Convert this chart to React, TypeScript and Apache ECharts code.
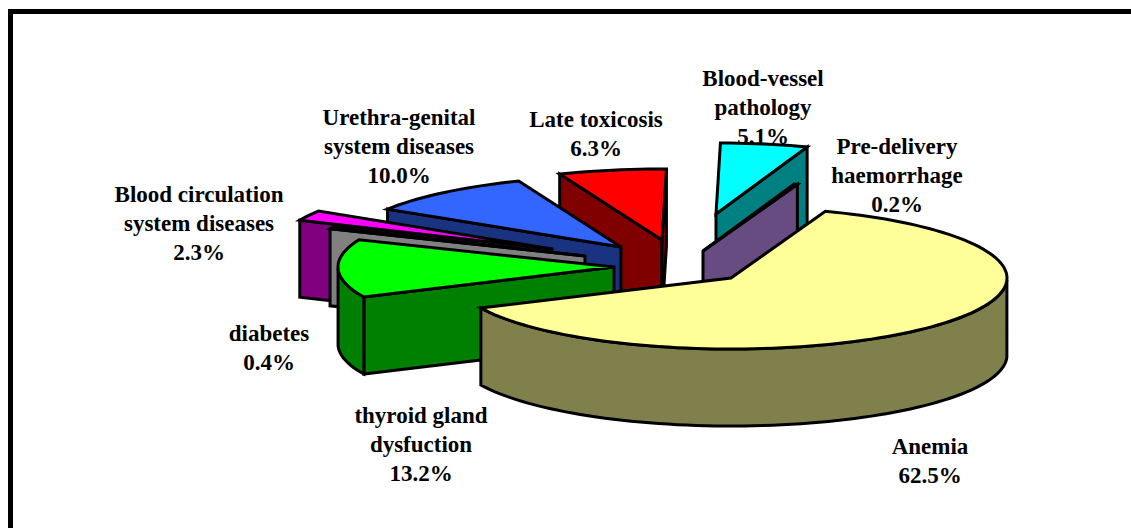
import React, { useEffect, useRef } from "react";
import * as echarts from "echarts";

const categories = ["Anemia", "thyroid gland dysfuction", "diabetes", "Blood circulation system diseases", "Urethra-genital system diseases", "Late toxicosis", "Blood-vessel pathology", "Pre-delivery haemorrhage"];
const shares = [62.5, 13.2, 0.4, 2.3, 10.0, 6.3, 5.1, 0.2];
const topColors = ["#FFFF99", "#00FF00", "#969696", "#FF00FF", "#3366FF", "#FF0000", "#00FFFF", "#996699"];
const sideColors = ["#80804D", "#008000", "#808080", "#800080", "#1A3380", "#800000", "#008080", "#664C80"];
// apex of each exploded slice on the page
const apexX = [731, 614, 585, 552, 621, 662, 716, 703];
const apexY = [278, 267, 256, 249, 247, 240, 214, 251];
const drawOrder = [5, 6, 7, 4, 3, 2, 1, 0];

const RX = 276, RY = 71, DEPTH = 77, START = 70;

const labelLines = [
  ["Anemia", "62.5%"],
  ["thyroid gland", "dysfuction", "13.2%"],
  ["diabetes", "0.4%"],
  ["Blood circulation", "system diseases", "2.3%"],
  ["Urethra-genital", "system diseases", "10.0%"],
  ["Late toxicosis", "6.3%"],
  ["Blood-vessel", "pathology", "5.1%"],
  ["Pre-delivery", "haemorrhage", "0.2%"],
];
const labelX = [930, 421, 269, 199, 399, 596, 763, 897];
const labelMid = [446, 415, 333, 194, 117, 119, 78, 146];

const startAngles = shares.map((_, i) => START - shares.slice(0, i).reduce((a, b) => a + b, 0) * 3.6);

function arcPoints(cx: number, cy: number, a0: number, a1: number) {
  const n = Math.max(2, Math.ceil(Math.abs(a0 - a1) / 2));
  const pts: number[][] = [];
  for (let k = 0; k <= n; k++) {
    const t = ((a0 + ((a1 - a0) * k) / n) * Math.PI) / 180;
    pts.push([cx + RX * Math.cos(t), cy - RY * Math.sin(t)]);
  }
  return pts;
}

const renderSlice = (_: any, api: any) => {
  const i = api.value(0) as number;
  const share = api.value(1) as number;
  const a0 = startAngles[i];
  const a1 = a0 - share * 3.6;
  const cx = apexX[i], cy = apexY[i];
  const edge = { stroke: "#000", lineWidth: 3, lineJoin: "miter" as const };
  const arc = arcPoints(cx, cy, a0, a1);
  const down = (p: number[]) => [p[0], p[1] + DEPTH];
  const side = { ...edge, fill: sideColors[i] };
  const children: any[] = [];
  const wall = (pts: number[][]) => children.push({ type: "polygon", shape: { points: pts }, style: side });
  const c = [cx, cy];
  const cos = (d: number) => Math.cos((d * Math.PI) / 180);
  // radial cut faces, only when they face the viewer
  if (cos(a0) < 0) wall([c, arc[0], down(arc[0]), down(c)]);
  if (cos(a1) > 0) wall([c, arc[arc.length - 1], down(arc[arc.length - 1]), down(c)]);
  // outer curved wall: only the part facing the viewer
  const sideFront: number[][] = [];
  arc.forEach((p, k) => {
    const t = a0 + ((a1 - a0) * k) / (arc.length - 1);
    const s = Math.sin((t * Math.PI) / 180);
    if (s <= 0.001) sideFront.push(p);
  });
  if (sideFront.length > 1) {
    wall([...sideFront, ...sideFront.slice().reverse().map(down)]);
  }
  children.push({ type: "polygon", shape: { points: [c, ...arc] }, style: { ...edge, fill: topColors[i] } });
  return { type: "group", children };
};

const labelGraphics = labelLines.flatMap((lines, i) =>
  lines.map((line, k) => ({
    type: "text",
    x: labelX[i],
    y: labelMid[i] + k * 29.3,
    style: { text: line, fill: "#000", font: 'bold 23px "Liberation Serif"', textAlign: "center", textVerticalAlign: "middle" },
  }))
);

export default function App() {
  const ref = useRef<HTMLDivElement>(null);
  useEffect(() => {
    document.body.style.margin = "0";
    document.body.style.background = "#fff";
    const chart = echarts.init(ref.current!, null, { renderer: "svg" });
    chart.setOption({
      animation: false,
      backgroundColor: "#fff",
      series: [
        {
          type: "custom",
          coordinateSystem: "none",
          renderItem: renderSlice,
          data: drawOrder.map((i) => ({ name: categories[i], value: [i, shares[i]] })),
          silent: true,
        },
      ],
      graphic: [
        { type: "rect", shape: { x: 10.5, y: 11.5, width: 1140, height: 540 }, style: { fill: "none", stroke: "#000", lineWidth: 5 }, z: 1 },
        ...labelGraphics.map((g) => ({ ...g, z: 10 })),
      ],
    });
    return () => chart.dispose();
  }, []);
  return <div ref={ref} style={{ width: 1131, height: 528 }} />;
}
